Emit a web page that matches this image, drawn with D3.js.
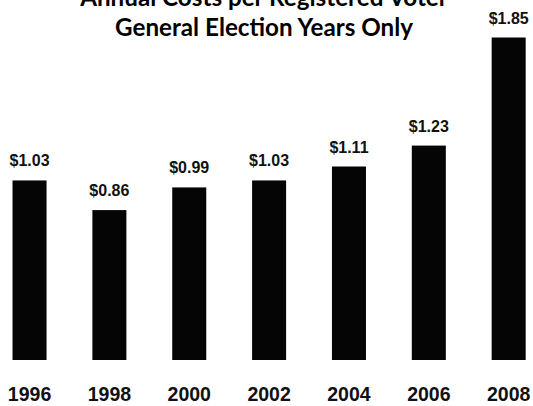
<!DOCTYPE html>
<html><head><meta charset="utf-8">
<script src="https://cdn.jsdelivr.net/npm/d3@7"></script>
<style>body{margin:0;background:#fff;overflow:hidden}</style>
</head><body>
<svg id="c" width="533" height="406"></svg>
<script>
const years = ["1996","1998","2000","2002","2004","2006","2008"];
const costs = [1.03, 0.86, 0.99, 1.03, 1.11, 1.23, 1.85];
const valueLabels = ["$1.03","$0.86","$0.99","$1.03","$1.11","$1.23","$1.85"];
const titleLines = ["Annual Costs per Registered Voter","General Election Years Only"];

const svg = d3.select("#c");
const x = d3.scaleBand().domain(years).range([-10.4, 548.6]).paddingInner(0.574).paddingOuter(0.287);
const y = d3.scaleLinear().domain([0, 1.85]).range([360, 37.5]);

svg.append("g").selectAll("rect").data(years).join("rect")
  .attr("x", d => x(d)).attr("width", x.bandwidth())
  .attr("y", (d,i) => y(costs[i])).attr("height", (d,i) => y(0) - y(costs[i]))
  .attr("fill", "#050505");

svg.append("g").selectAll("text").data(years).join("text")
  .attr("x", d => x(d) + x.bandwidth()/2).attr("y", (d,i) => y(costs[i]) - 14)
  .attr("text-anchor","middle")
  .style("font-family","'Liberation Sans', Arial, sans-serif").style("font-weight","bold").style("font-size","16px")
  .attr("fill","#111")
  .text((d,i) => valueLabels[i]);

const xAxis = d3.axisBottom(x).tickSize(0).tickPadding(0);
const gx = svg.append("g").attr("transform","translate(0,387)").call(xAxis);
gx.select(".domain").remove();
gx.selectAll("text").attr("dy","0.71em")
  .style("font-family","'Liberation Sans', Arial, sans-serif").style("font-weight","bold").style("font-size","19.5px")
  .attr("fill","#111");

const title = svg.append("g").selectAll("text").data(titleLines).join("text")
  .attr("x", 264).attr("y", (d,i) => 6 + i*30)
  .attr("text-anchor","middle")
  .style("font-family","Lato, 'Open Sans', sans-serif").style("font-weight","bold").style("font-size","22px")
  .attr("fill","#000")
  .text(d => d);
// fit line 2 to the reference width (~298px)
const w2 = title.nodes()[1].getComputedTextLength();
const fs = 22 * 298 / w2;
title.style("font-size", fs.toFixed(2) + "px");
</script>
</body></html>
